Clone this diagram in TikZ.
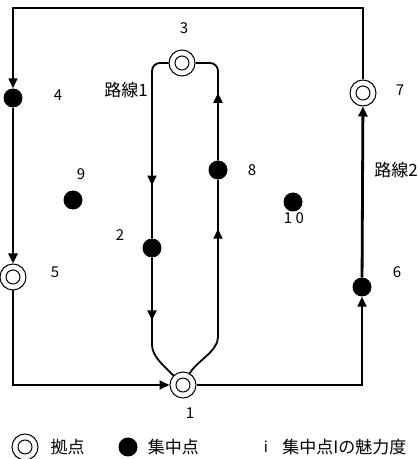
\documentclass[tikz,border=0pt]{standalone}
\usepackage{fontspec}
\setmainfont{Noto Sans CJK JP}
\usetikzlibrary{arrows.meta,positioning,decorations.markings}
\tikzset{
  depot/.style={circle, draw, line width=1pt, fill=white, minimum size=26pt, inner sep=0pt,
    path picture={\draw[line width=1pt] (path picture bounding box.center) circle (7pt);}},
  hub/.style={circle, fill=black, minimum size=19pt, inner sep=0pt},
  num/.style={font=\fontsize{15}{17}\selectfont, inner sep=0pt},
  jp/.style={font=\fontsize{17}{19}\selectfont, inner sep=0pt},
  route/.style={line width=1.8pt},
  trunk/.style={line width=2.8pt},
  loopline/.style={line width=1.3pt},
  arrow/.style={-{Triangle[length=10pt,width=9pt]}},
  midtip/.style={postaction={decorate},
    decoration={markings, mark=at position #1 with {\arrow{Triangle[length=10pt,width=9pt]}}}}
}

\begin{document}
\begin{tikzpicture}[x=1pt, y=1pt]
  \useasboundingbox (0,0) rectangle (418,459);

  \node[depot] (n1) at (183,74) {};
  \node[hub] (n2) at (152,211) {};
  \node[depot] (n3) at (182,396) {};
  \node[hub] (n4) at (13,361) {};
  \node[depot] (n5) at (13,182) {};
  \node[hub] (n6) at (362,172) {};
  \node[depot] (n7) at (363,366) {};
  \node[hub] (n8) at (218,289) {};
  \node[hub] (n9) at (73,259) {};
  \node[hub] (n10) at (293,257) {};

  \node[num] (l1) at (190,46) {1};
  \node[num] (l2) at (120,224) {2};
  \node[num] (l3) at (184,431) {3};
  \node[num] (l4) at (58,364) {4};
  \node[num] (l5) at (55,187) {5};
  \node[num] (l6) at (397,187) {6};
  \node[num] (l7) at (400,369) {7};
  \node[num] (l8) at (252,289) {8};
  \node[num] (l9) at (81,285) {9};
  \node[num] (l10) at (294,241) {1 0};
  \node[jp] (r1) at (126,369) {路線1};
  \node[jp] (r2) at (396,289) {路線2};

  \coordinate (tl) at (13,451);
  \coordinate (tr) at (363,451);
  \coordinate (b2) at (152,114);
  \coordinate (b8) at (218,122);

  \draw[loopline, arrow] (n7) -- (tr) -- (tl) -- (n4);
  \draw[trunk, arrow] (n4) -- (n5);
  \draw[route, arrow] (n5) |- (n1);
  \draw[route, arrow] (n1) -| (n6);
  \draw[trunk, arrow] (n6) -- (n7);

  \draw[route, midtip=0.72, rounded corners=8pt] (n3) -| (n2);
  \draw[route, midtip=0.5] (n2) -- (b2) to[out=-90, in=135, looseness=0.8] (n1);
  \draw[route, midtip=0.76] (n1) to[out=60, in=-90, looseness=0.8] (b8) -- (n8);
  \draw[route, midtip=0.58, rounded corners=8pt] (n8) |- (n3);

  \node[depot] (k1) at (25,12) {};
  \node[jp, right=12pt of k1] (k1t) {拠点};
  \node[hub] (k2) at (128,12) {};
  \node[jp, right=10pt of k2] (k2t) {集中点};
  \node[num] (k3) at (266,12) {i};
  \node[jp, right=14pt of k3] (k3t) {集中点Iの魅力度};
\end{tikzpicture}
\end{document}
